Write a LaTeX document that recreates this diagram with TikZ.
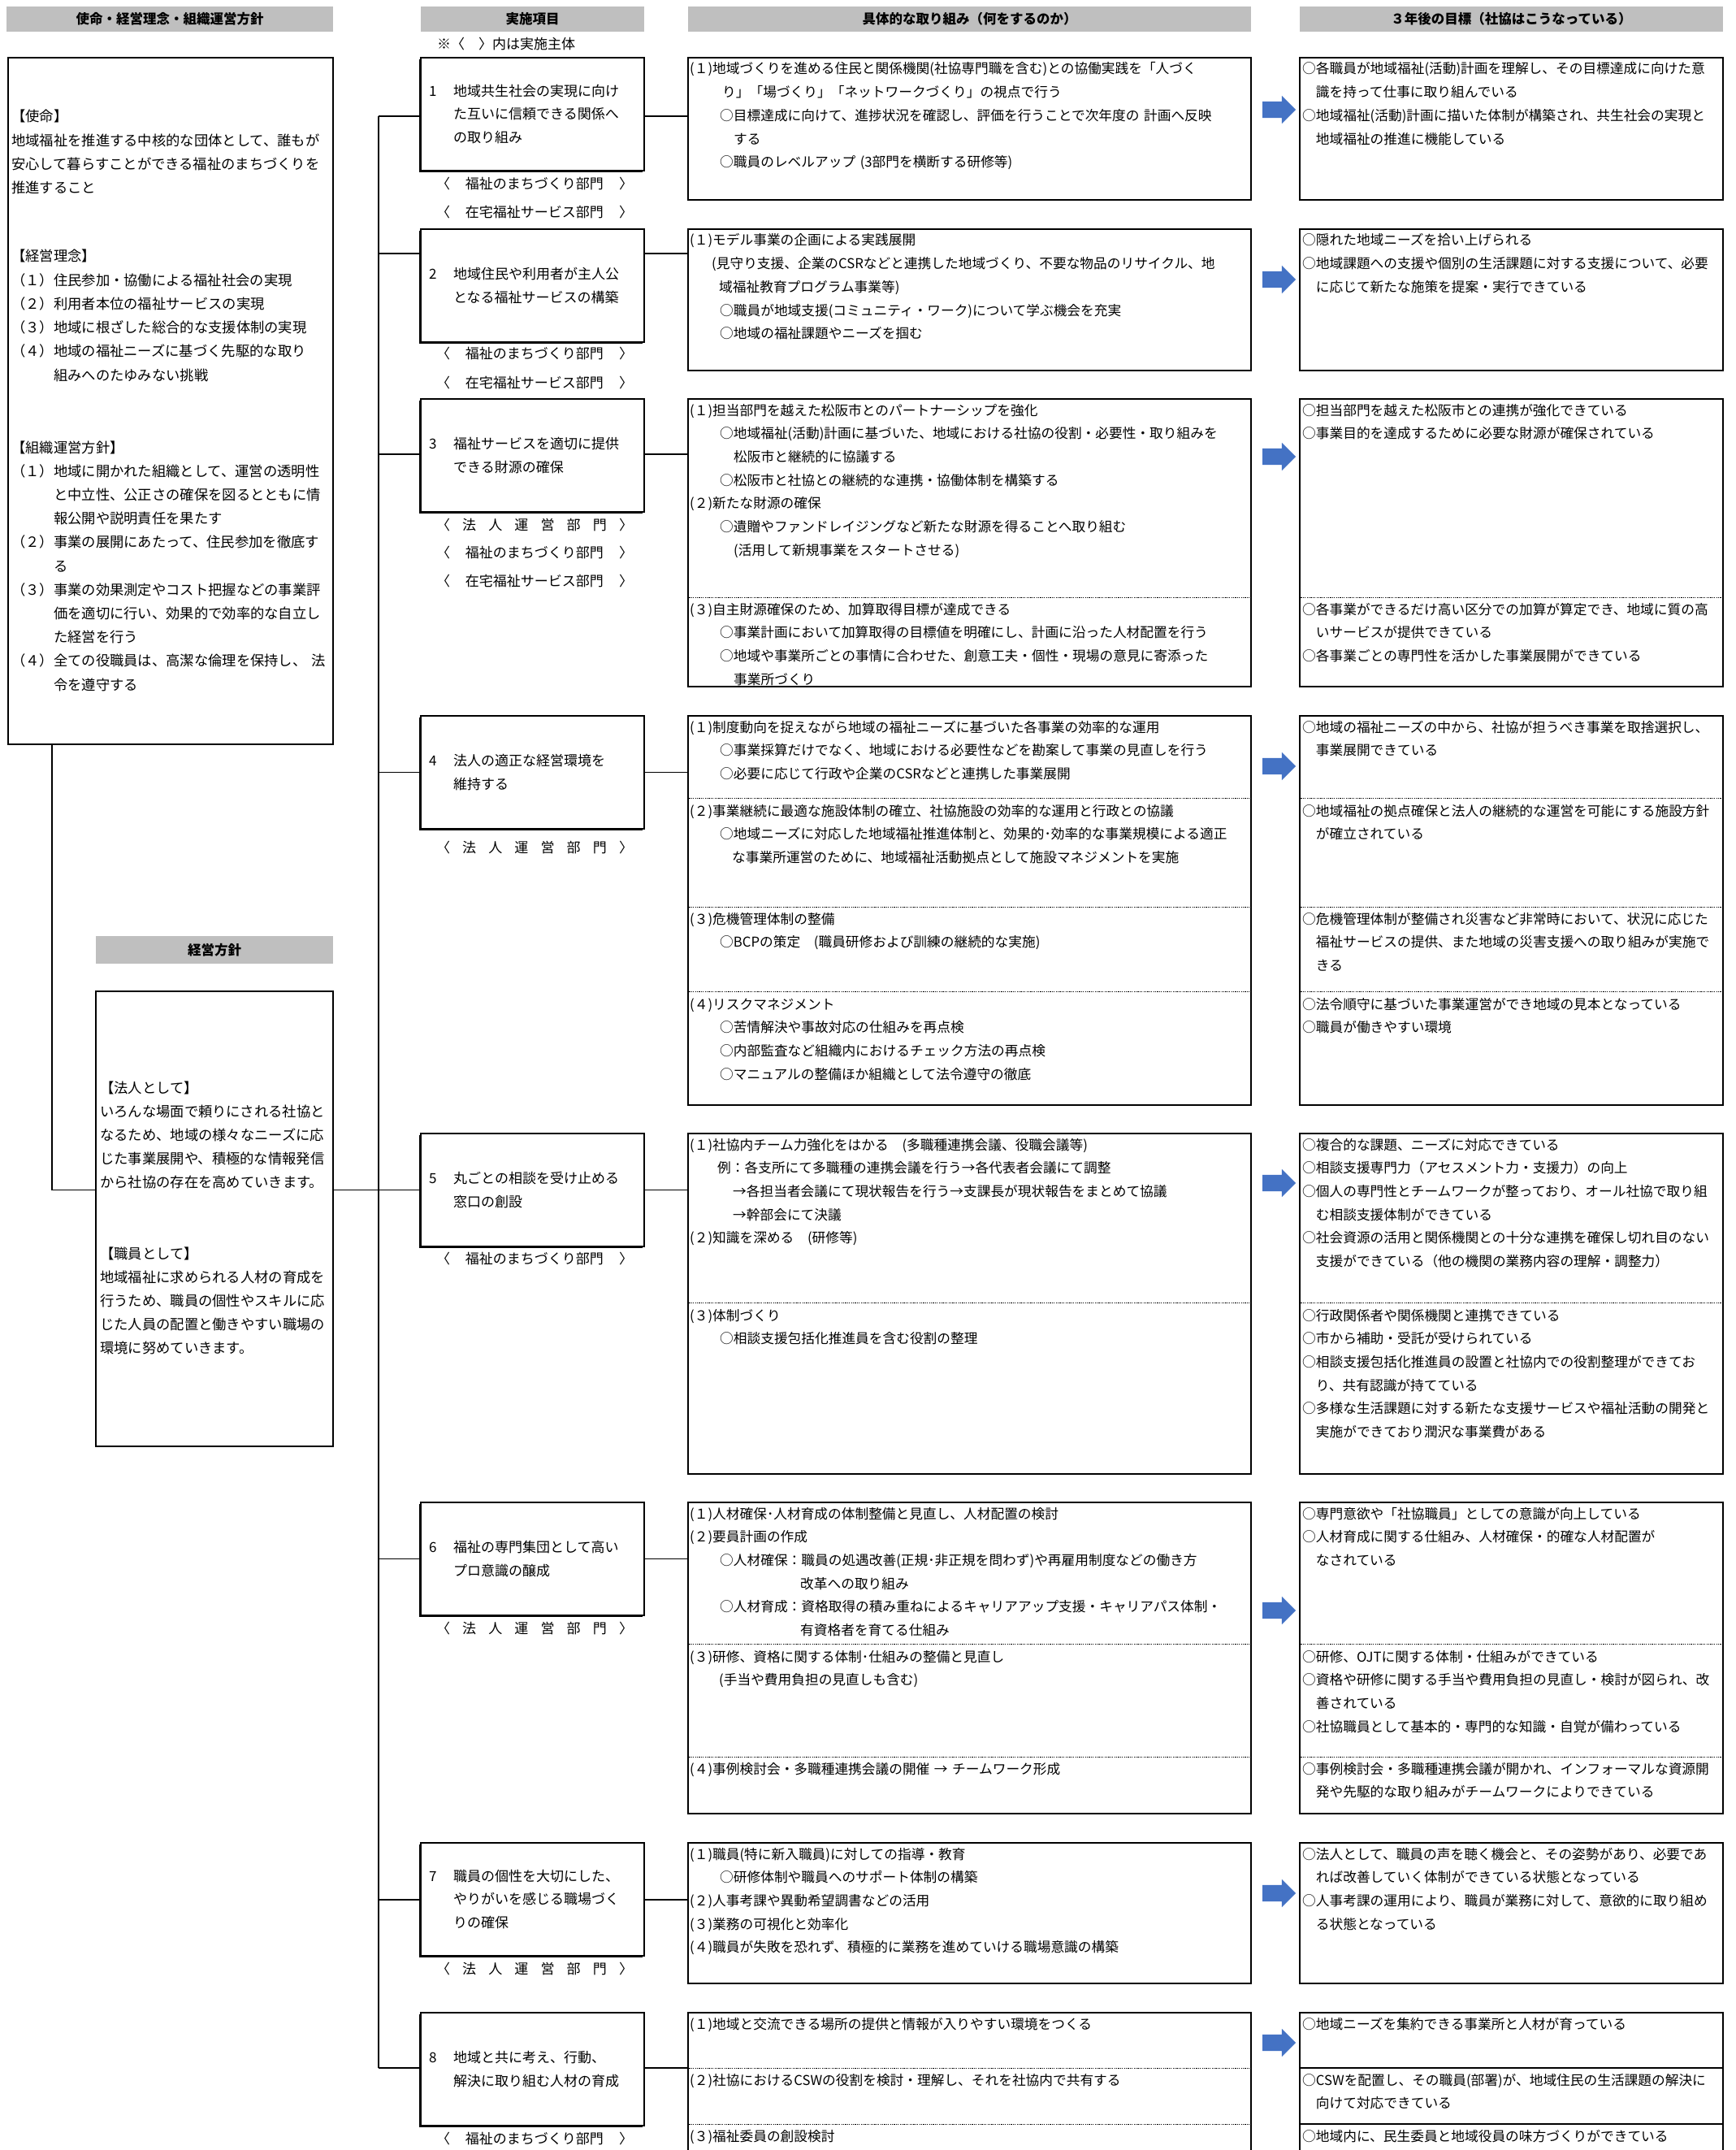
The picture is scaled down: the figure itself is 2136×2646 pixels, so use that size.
\documentclass[tikz,border=0pt]{standalone}
\usepackage{fontspec}
\setmainfont{Noto Sans CJK JP}
\usetikzlibrary{shapes.arrows,shadows}
\definecolor{hdrColor}{HTML}{BFBFBF}
\definecolor{arrColor}{HTML}{4472C4}
\newcommand{\idt}[1]{\hspace*{#1pt}}
\newcommand{\dept}[1]{\makebox[242pt][s]{〈\hfill #1\hfill 〉}}
\tikzset{
	hdr/.style={fill=hdrColor, inner sep=0, font=\fontsize{16.5}{20}\selectfont\bfseries},
	frame/.style={draw, line width=2pt, fill=white, inner sep=0},
	item/.style={frame, minimum width=275, minimum height=139,
		general shadow={fill=black, shadow xshift=-2pt, shadow yshift=-2pt}},
	kbox/.style={frame, minimum width=693},
	gbox/.style={frame, minimum width=521},
	link/.style={line width=1.3pt},
	sep/.style={line width=1pt, dash pattern=on 1.2pt off 1.2pt},
	arr/.style={single arrow, fill=arrColor, inner xsep=0, inner ysep=10pt,
		single arrow head extend=7pt, minimum height=41},
	mtxt/.style={anchor=base west, inner sep=0, align=left, text width=395,
		font=\fontsize{17.3}{29.2}\selectfont},
	itxt/.style={anchor=west, inner sep=0, align=left, font=\fontsize{17}{28.7}\selectfont},
	lab/.style={inner sep=0, font=\fontsize{17}{20}\selectfont},
	ktxt/.style={anchor=base west, inner sep=0, align=left, text width=690,
		font=\fontsize{16.7}{28.7}\selectfont},
	gtxt/.style={anchor=base west, inner sep=0, align=left, text width=518,
		font=\fontsize{16.7}{28.7}\selectfont}
}
\begin{document}
\begin{tikzpicture}[x=1pt, y=-1pt]
	\useasboundingbox (0,0) rectangle (2136,2646);
	\clip (0,0) rectangle (2136,2646);
	% headers
	\node[hdr, minimum width=402, minimum height=31] (h1) at (209,23.5) {使命・経営理念・組織運営方針};
	\node[hdr, minimum width=275, minimum height=31] (h2) at (655.5,23.5) {実施項目};
	\node[hdr, minimum width=693, minimum height=31] (h3) at (1193.5,23.5) {具体的な取り組み（何をするのか）};
	\node[hdr, minimum width=521, minimum height=31] (h4) at (1860.5,23.5) {３年後の目標（社協はこうなっている）};
	\node[lab, anchor=west] (note) at (538,54) {※〈　〉内は実施主体};
	
	% left column
	\node[frame, minimum width=400, minimum height=845] (mis) at (210,493.5) {};
	\node[mtxt] (mis_1) at (14,150) {【使命】\\地域福祉を推進する中核的な団体として、誰もが\\安心して暮らすことができる福祉のまちづくりを\\推進すること};
	\node[mtxt] (mis_2) at (14,322) {【経営理念】\\（１）住民参加・協働による福祉社会の実現\\（２）利用者本位の福祉サービスの実現\\（３）地域に根ざした総合的な支援体制の実現\\（４）地域の福祉ニーズに基づく先駆的な取り\\　　　組みへのたゆみない挑戦};
	\node[mtxt] (mis_3) at (14,557) {【組織運営方針】\\（１）地域に開かれた組織として、運営の透明性\\　　　と中立性、公正さの確保を図るとともに情\\　　　報公開や説明責任を果たす\\（２）事業の展開にあたって、住民参加を徹底す\\　　　る\\（３）事業の効果測定やコスト把握などの事業評\\　　　価を適切に行い、効果的で効率的な自立し\\　　　た経営を行う\\（４）全ての役職員は、高潔な倫理を保持し、 法\\　　　令を遵守する};
	\node[hdr, minimum width=292, minimum height=34] (hp) at (264,1169) {経営方針};
	\node[frame, minimum width=292, minimum height=560] (pol) at (264,1500) {};
	\node[mtxt, text width=285] (pol_1) at (123,1345) {【法人として】\\いろんな場面で頼りにされる社協と\\なるため、地域の様々なニーズに応\\じた事業展開や、積極的な情報発信\\から社協の存在を高めていきます。};
	\node[mtxt, text width=285] (pol_2) at (123,1549) {【職員として】\\地域福祉に求められる人材の育成を\\行うため、職員の個性やスキルに応\\じた人員の配置と働きやすい職場の\\環境に努めていきます。};
	
	% items
	\node[item] (i1) at (655.5,140.5) {};
	\node[itxt] (i1_t) at (528,140.5) {\makebox[30pt][l]{1}地域共生社会の実現に向け\\\idt{30}た互いに信頼できる関係へ\\\idt{30}の取り組み};
	\node[lab] (i1_a) at (658,226) {\dept{福祉のまちづくり部門}};
	\node[lab] (i1_b) at (658,261.5) {\dept{在宅福祉サービス部門}};
	\node[item] (i2) at (655.5,351.5) {};
	\node[itxt] (i2_t) at (528,351.5) {\makebox[30pt][l]{2}地域住民や利用者が主人公\\\idt{30}となる福祉サービスの構築};
	\node[lab] (i2_a) at (658,435) {\dept{福祉のまちづくり部門}};
	\node[lab] (i2_b) at (658,471) {\dept{在宅福祉サービス部門}};
	\node[item] (i3) at (655.5,560.5) {};
	\node[itxt] (i3_t) at (528,560.5) {\makebox[30pt][l]{3}福祉サービスを適切に提供\\\idt{30}できる財源の確保};
	\node[lab] (i3_a) at (658,646) {\dept{法\hfill 人\hfill 運\hfill 営\hfill 部\hfill 門}};
	\node[lab] (i3_b) at (658,680) {\dept{福祉のまちづくり部門}};
	\node[lab] (i3_c) at (658,715) {\dept{在宅福祉サービス部門}};
	\node[item] (i4) at (655.5,950.5) {};
	\node[itxt] (i4_t) at (528,950.5) {\makebox[30pt][l]{4}法人の適正な経営環境を\\\idt{30}維持する};
	\node[lab] (i4_a) at (658,1043) {\dept{法\hfill 人\hfill 運\hfill 営\hfill 部\hfill 門}};
	\node[item] (i5) at (655.5,1464.5) {};
	\node[itxt] (i5_t) at (528,1464.5) {\makebox[30pt][l]{5}丸ごとの相談を受け止める\\\idt{30}窓口の創設};
	\node[lab] (i5_a) at (658,1549) {\dept{福祉のまちづくり部門}};
	\node[item] (i6) at (655.5,1918.5) {};
	\node[itxt] (i6_t) at (528,1918.5) {\makebox[30pt][l]{6}福祉の専門集団として高い\\\idt{30}プロ意識の醸成};
	\node[lab] (i6_a) at (658,2004) {\dept{法\hfill 人\hfill 運\hfill 営\hfill 部\hfill 門}};
	\node[item] (i7) at (655.5,2337.5) {};
	\node[itxt] (i7_t) at (528,2337.5) {\makebox[30pt][l]{7}職員の個性を大切にした、\\\idt{30}やりがいを感じる職場づく\\\idt{30}りの確保};
	\node[lab] (i7_a) at (658,2423) {\dept{法\hfill 人\hfill 運\hfill 営\hfill 部\hfill 門}};
	\node[item] (i8) at (655.5,2546.5) {};
	\node[itxt] (i8_t) at (528,2546.5) {\makebox[30pt][l]{8}地域と共に考え、行動、\\\idt{30}解決に取り組む人材の育成};
	\node[lab] (i8_a) at (658,2632) {\dept{福祉のまちづくり部門}};
	
	% what to do
	\node[kbox, minimum height=175] (k1) at (1193.5,158.5) {};
	\node[ktxt] (k1_1) at (849,91) {(１)地域づくりを進める住民と関係機関(社協専門職を含む)との協働実践を「人づく\\\idt{40}り」「場づくり」「ネットワークづくり」の視点で行う\\\idt{37}○目標達成に向けて、進捗状況を確認し、評価を行うことで次年度の 計画へ反映\\\idt{54}する\\\idt{37}○職員のレベルアップ (3部門を横断する研修等)};
	\node[kbox, minimum height=174] (k2) at (1193.5,369) {};
	\node[ktxt] (k2_1) at (849,302) {(１)モデル事業の企画による実践展開\\\idt{27}(見守り支援、企業のCSRなどと連携した地域づくり、不要な物品のリサイクル、地\\\idt{36}域福祉教育プログラム事業等)\\\idt{37}○職員が地域支援(コミュニティ・ワーク)について学ぶ機会を充実\\\idt{37}○地域の福祉課題やニーズを掴む};
	\node[kbox, minimum height=354] (k3) at (1193.5,668) {};
	\draw[sep] (k3.north west) ++(0,245) -- ++(693,0);
	\node[ktxt] (k3_1) at (849,511) {(１)担当部門を越えた松阪市とのパートナーシップを強化\\\idt{37}○地域福祉(活動)計画に基づいた、地域における社協の役割・必要性・取り組みを\\\idt{54}松阪市と継続的に協議する\\\idt{37}○松阪市と社協との継続的な連携・協働体制を構築する\\(２)新たな財源の確保\\\idt{37}○遺贈やファンドレイジングなど新たな財源を得ることへ取り組む\\\idt{54}(活用して新規事業をスタートさせる)};
	\node[ktxt] (k3_2) at (849,756) {(３)自主財源確保のため、加算取得目標が達成できる\\\idt{37}○事業計画において加算取得の目標値を明確にし、計画に沿った人材配置を行う\\\idt{37}○地域や事業所ごとの事情に合わせた、創意工夫・個性・現場の意見に寄添った\\\idt{54}事業所づくり};
	\node[kbox, minimum height=479] (k4) at (1193.5,1120.5) {};
	\draw[sep] (k4.north west) ++(0,102.6) -- ++(693,0);
	\draw[sep] (k4.north west) ++(0,236) -- ++(693,0);
	\draw[sep] (k4.north west) ++(0,340.5) -- ++(693,0);
	\node[ktxt] (k4_1) at (849,901) {(１)制度動向を捉えながら地域の福祉ニーズに基づいた各事業の効率的な運用\\\idt{37}○事業採算だけでなく、地域における必要性などを勘案して事業の見直しを行う\\\idt{37}○必要に応じて行政や企業のCSRなどと連携した事業展開};
	\node[ktxt] (k4_2) at (849,1004) {(２)事業継続に最適な施設体制の確立、社協施設の効率的な運用と行政との協議\\\idt{37}○地域ニーズに対応した地域福祉推進体制と、効果的･効率的な事業規模による適正\\\idt{52}な事業所運営のために、地域福祉活動拠点として施設マネジメントを実施};
	\node[ktxt] (k4_3) at (849,1137) {(３)危機管理体制の整備\\\idt{37}○BCPの策定　(職員研修および訓練の継続的な実施)};
	\node[ktxt] (k4_4) at (849,1242) {(４)リスクマネジメント\\\idt{37}○苦情解決や事故対応の仕組みを再点検\\\idt{37}○内部監査など組織内におけるチェック方法の再点検\\\idt{37}○マニュアルの整備ほか組織として法令遵守の徹底};
	\node[kbox, minimum height=419] (k5) at (1193.5,1604.5) {};
	\draw[sep] (k5.north west) ++(0,209.5) -- ++(693,0);
	\node[ktxt] (k5_1) at (849,1415) {(１)社協内チーム力強化をはかる　(多職種連携会議、役職会議等)\\\idt{34}例：各支所にて多職種の連携会議を行う→各代表者会議にて調整\\\idt{53}→各担当者会議にて現状報告を行う→支課長が現状報告をまとめて協議\\\idt{53}→幹部会にて決議\\(２)知識を深める　(研修等)};
	\node[ktxt] (k5_2) at (849,1625) {(３)体制づくり\\\idt{37}○相談支援包括化推進員を含む役割の整理};
	\node[kbox, minimum height=383] (k6) at (1193.5,2040.5) {};
	\draw[sep] (k6.north west) ++(0,175.6) -- ++(693,0);
	\draw[sep] (k6.north west) ++(0,314) -- ++(693,0);
	\node[ktxt] (k6_1) at (849,1869) {(１)人材確保･人材育成の体制整備と見直し、人材配置の検討\\(２)要員計画の作成\\\idt{37}○人材確保：職員の処遇改善(正規･非正規を問わず)や再雇用制度などの働き方\\\idt{136}改革への取り組み\\\idt{37}○人材育成：資格取得の積み重ねによるキャリアアップ支援・キャリアパス体制・\\\idt{136}有資格者を育てる仕組み};
	\node[ktxt] (k6_2) at (849,2045) {(３)研修、資格に関する体制･仕組みの整備と見直し\\\idt{36}(手当や費用負担の見直しも含む)};
	\node[ktxt] (k6_3) at (849,2183) {(４)事例検討会・多職種連携会議の開催 → チームワーク形成};
	\node[kbox, minimum height=173] (k7) at (1193.5,2354.5) {};
	\node[ktxt] (k7_1) at (849,2288) {(１)職員(特に新入職員)に対しての指導・教育\\\idt{37}○研修体制や職員へのサポート体制の構築\\(２)人事考課や異動希望調書などの活用\\(３)業務の可視化と効率化\\(４)職員が失敗を恐れず、積極的に業務を進めていける職場意識の構築};
	\node[kbox, minimum height=223] (k8) at (1193.5,2588.5) {};
	\draw[sep] (k8.north west) ++(0,69) -- ++(693,0);
	\draw[sep] (k8.north west) ++(0,138.2) -- ++(693,0);
	\node[ktxt] (k8_1) at (849,2497) {(１)地域と交流できる場所の提供と情報が入りやすい環境をつくる};
	\node[ktxt] (k8_2) at (849,2566) {(２)社協におけるCSWの役割を検討・理解し、それを社協内で共有する};
	\node[ktxt] (k8_3) at (849,2635) {(３)福祉委員の創設検討};
	
	% goals
	\node[gbox, minimum height=175] (g1) at (1860.5,158.5) {};
	\node[gtxt] (g1_1) at (1603,91) {○各職員が地域福祉(活動)計画を理解し、その目標達成に向けた意\\　識を持って仕事に取り組んでいる\\○地域福祉(活動)計画に描いた体制が構築され、共生社会の実現と\\　地域福祉の推進に機能している};
	\node[gbox, minimum height=174] (g2) at (1860.5,369) {};
	\node[gtxt] (g2_1) at (1603,302) {○隠れた地域ニーズを拾い上げられる\\○地域課題への支援や個別の生活課題に対する支援について、必要\\　に応じて新たな施策を提案・実行できている};
	\node[gbox, minimum height=354] (g3) at (1860.5,668) {};
	\draw[sep] (g3.north west) ++(0,245) -- ++(521,0);
	\node[gtxt] (g3_1) at (1603,511) {○担当部門を越えた松阪市との連携が強化できている\\○事業目的を達成するために必要な財源が確保されている};
	\node[gtxt] (g3_2) at (1603,756) {○各事業ができるだけ高い区分での加算が算定でき、地域に質の高\\　いサービスが提供できている\\○各事業ごとの専門性を活かした事業展開ができている};
	\node[gbox, minimum height=479] (g4) at (1860.5,1120.5) {};
	\draw[sep] (g4.north west) ++(0,102.6) -- ++(521,0);
	\draw[sep] (g4.north west) ++(0,236) -- ++(521,0);
	\draw[sep] (g4.north west) ++(0,340.5) -- ++(521,0);
	\node[gtxt] (g4_1) at (1603,901) {○地域の福祉ニーズの中から、社協が担うべき事業を取捨選択し、\\　事業展開できている};
	\node[gtxt] (g4_2) at (1603,1004) {○地域福祉の拠点確保と法人の継続的な運営を可能にする施設方針\\　が確立されている};
	\node[gtxt] (g4_3) at (1603,1137) {○危機管理体制が整備され災害など非常時において、状況に応じた\\　福祉サービスの提供、また地域の災害支援への取り組みが実施で\\　きる};
	\node[gtxt] (g4_4) at (1603,1242) {○法令順守に基づいた事業運営ができ地域の見本となっている\\○職員が働きやすい環境};
	\node[gbox, minimum height=419] (g5) at (1860.5,1604.5) {};
	\draw[sep] (g5.north west) ++(0,209.5) -- ++(521,0);
	\node[gtxt] (g5_1) at (1603,1415) {○複合的な課題、ニーズに対応できている\\○相談支援専門力（アセスメント力・支援力）の向上\\○個人の専門性とチームワークが整っており、オール社協で取り組\\　む相談支援体制ができている\\○社会資源の活用と関係機関との十分な連携を確保し切れ目のない\\　支援ができている（他の機関の業務内容の理解・調整力）};
	\node[gtxt] (g5_2) at (1603,1625) {○行政関係者や関係機関と連携できている\\○市から補助・受託が受けられている\\○相談支援包括化推進員の設置と社協内での役割整理ができてお\\　り、共有認識が持てている\\○多様な生活課題に対する新たな支援サービスや福祉活動の開発と\\　実施ができており潤沢な事業費がある};
	\node[gbox, minimum height=383] (g6) at (1860.5,2040.5) {};
	\draw[sep] (g6.north west) ++(0,175.6) -- ++(521,0);
	\draw[sep] (g6.north west) ++(0,314) -- ++(521,0);
	\node[gtxt] (g6_1) at (1603,1869) {○専門意欲や「社協職員」としての意識が向上している\\○人材育成に関する仕組み、人材確保・的確な人材配置が\\　なされている};
	\node[gtxt] (g6_2) at (1603,2045) {○研修、OJTに関する体制・仕組みができている\\○資格や研修に関する手当や費用負担の見直し・検討が図られ、改\\　善されている\\○社協職員として基本的・専門的な知識・自覚が備わっている};
	\node[gtxt] (g6_3) at (1603,2183) {○事例検討会・多職種連携会議が開かれ、インフォーマルな資源開\\　発や先駆的な取り組みがチームワークによりできている};
	\node[gbox, minimum height=173] (g7) at (1860.5,2354.5) {};
	\node[gtxt] (g7_1) at (1603,2288) {○法人として、職員の声を聴く機会と、その姿勢があり、必要であ\\　れば改善していく体制ができている状態となっている\\○人事考課の運用により、職員が業務に対して、意欲的に取り組め\\　る状態となっている};
	\node[gbox, minimum height=223] (g8) at (1860.5,2588.5) {};
	\draw[line width=2pt] (g8.north west) ++(0,69) -- ++(521,0);
	\draw[line width=2pt] (g8.north west) ++(0,138.2) -- ++(521,0);
	\node[gtxt] (g8_1) at (1603,2497) {○地域ニーズを集約できる事業所と人材が育っている};
	\node[gtxt] (g8_2) at (1603,2566) {○CSWを配置し、その職員(部署)が、地域住民の生活課題の解決に\\　向けて対応できている};
	\node[gtxt] (g8_3) at (1603,2635) {○地域内に、民生委員と地域役員の味方づくりができている};
	
	% arrows
	\node[arr] (a1) at (1569.5,135) {};
	\node[arr] (a2) at (1569.5,344) {};
	\node[arr] (a3) at (1569.5,562) {};
	\node[arr] (a4) at (1569.5,943) {};
	\node[arr] (a5) at (1569.5,1456) {};
	\node[arr] (a6) at (1569.5,1982) {};
	\node[arr] (a7) at (1569.5,2330) {};
	\node[arr] (a8) at (1569.5,2514) {};
	
	% connectors
	\coordinate (lf) at (64,0);
	\coordinate (tr) at (466,0);
	\coordinate (r1) at (0,143);
	\coordinate (r2) at (0,312);
	\coordinate (r3) at (0,559);
	\coordinate (r4) at (0,950.5);
	\coordinate (r5) at (0,1464.5);
	\coordinate (r6) at (0,1918.5);
	\coordinate (r7) at (0,2338);
	\coordinate (r8) at (0,2545);
	\draw[link] (mis.south -| lf) |- (pol.west |- r5);
	\draw[link] (pol.east |- r5) -- (tr |- r5);
	\draw[link] (tr |- r1) -- (tr |- r8);
	\draw[link] (tr |- r1) -- (i1.west |- r1);
	\draw[link] (i1.east |- r1) -- (k1.west |- r1);
	\draw[link] (tr |- r2) -- (i2.west |- r2);
	\draw[link] (i2.east |- r2) -- (k2.west |- r2);
	\draw[link] (tr |- r3) -- (i3.west |- r3);
	\draw[link] (i3.east |- r3) -- (k3.west |- r3);
	\draw[link] (tr |- r4) -- (i4.west |- r4);
	\draw[link] (i4.east |- r4) -- (k4.west |- r4);
	\draw[link] (tr |- r5) -- (i5.west |- r5);
	\draw[link] (i5.east |- r5) -- (k5.west |- r5);
	\draw[link] (tr |- r6) -- (i6.west |- r6);
	\draw[link] (i6.east |- r6) -- (k6.west |- r6);
	\draw[link] (tr |- r7) -- (i7.west |- r7);
	\draw[link] (i7.east |- r7) -- (k7.west |- r7);
	\draw[link] (tr |- r8) -- (i8.west |- r8);
	\draw[link] (i8.east |- r8) -- (k8.west |- r8);
\end{tikzpicture}
\end{document}
